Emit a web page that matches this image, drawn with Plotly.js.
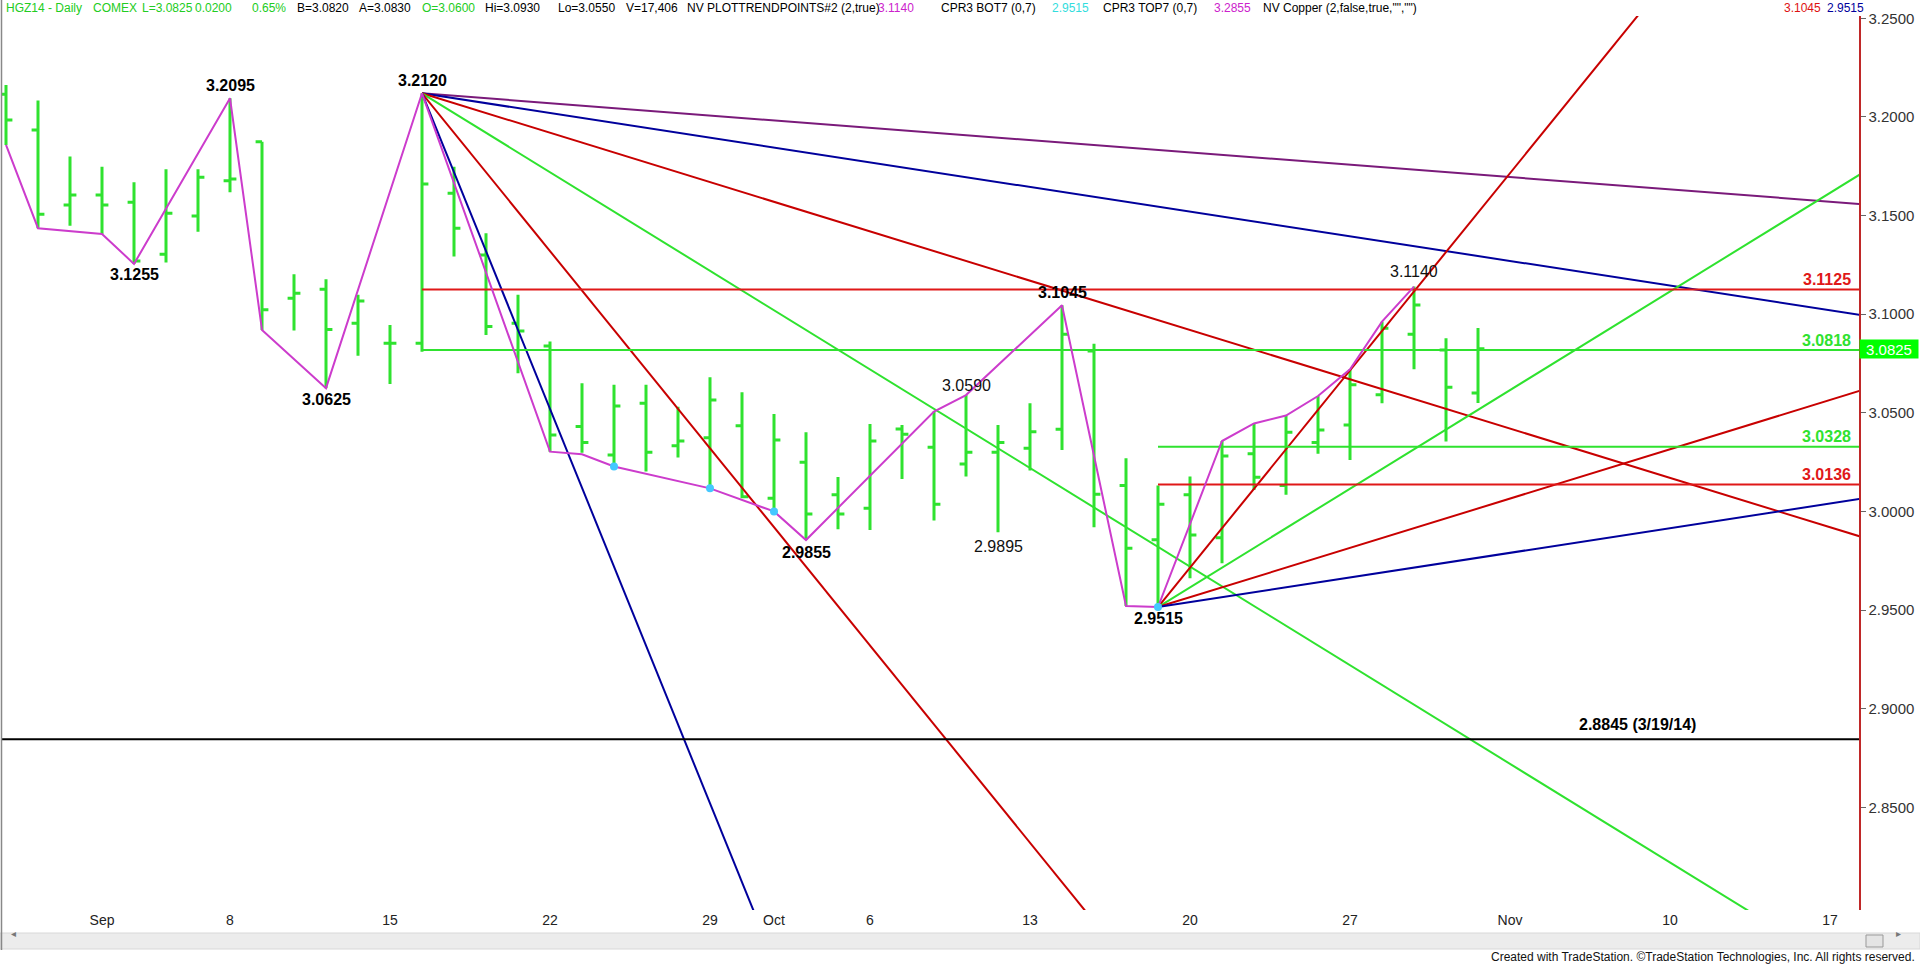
<!DOCTYPE html>
<html><head><meta charset="utf-8">
<script src="https://cdn.plot.ly/plotly-3.0.1.min.js"></script>
<style>html,body{margin:0;padding:0;background:#fff;}#chart{width:1920px;height:964px;}</style>
</head><body><div id="chart"></div>
<script>
// ---- DATA ----
const days = ['Aug 27','Aug 28','Aug 29','Sep 2','Sep 3','Sep 4','Sep 5','Sep 8','Sep 9','Sep 10','Sep 11','Sep 12',
  'Sep 15','Sep 16','Sep 17','Sep 18','Sep 19','Sep 22','Sep 23','Sep 24','Sep 25','Sep 26','Sep 29','Sep 30',
  'Oct 1','Oct 2','Oct 3','Oct 6','Oct 7','Oct 8','Oct 9','Oct 10','Oct 13','Oct 14','Oct 15','Oct 16','Oct 17',
  'Oct 20','Oct 21','Oct 22','Oct 23','Oct 24','Oct 27','Oct 28','Oct 29','Oct 30','Oct 31'];
const openP  = [3.2115,3.1934,3.1554,3.1605,3.1567,3.1304,3.1498,3.1677,3.1875,3.1081,3.1126,3.0954,3.0853,3.0853,3.1613,3.1300,3.0954,3.0839,3.0430,3.0286,3.0548,3.0333,3.0374,3.0435,3.0067,3.0249,3.0084,3.0016,3.0418,3.0325,3.0241,3.0300,3.0320,3.0416,3.0814,3.0131,2.9856,3.0084,2.9866,3.0292,3.0131,3.0350,3.0438,3.0591,3.0898,3.0818,3.0600];
const highP  = [3.2162,3.2083,3.1799,3.1748,3.1669,3.1735,3.1735,3.2095,3.1875,3.1203,3.1177,3.1098,3.0945,3.2120,3.1748,3.1410,3.1098,3.0861,3.0650,3.0642,3.0642,3.0531,3.0680,3.0604,3.0494,3.0401,3.0174,3.0443,3.0438,3.0506,3.0590,3.0438,3.0548,3.1045,3.0850,3.0270,3.0131,3.0177,3.0357,3.0446,3.0486,3.0585,3.0721,3.0962,3.1140,3.0878,3.0930];
const lowP   = [3.1858,3.1436,3.1449,3.1407,3.1255,3.1262,3.1418,3.1618,3.0920,3.0917,3.0625,3.0789,3.0646,3.0810,3.1292,3.0895,3.0700,3.0303,3.0298,3.0228,3.0202,3.0274,3.0117,3.0067,3.0000,2.9855,2.9910,2.9906,3.0165,2.9954,3.0177,2.9895,3.0207,3.0312,2.9920,2.9520,2.9515,2.9661,2.9737,3.0109,3.0084,3.0292,3.0261,3.0548,3.0721,3.0354,3.0550];
const closeP = [3.1985,3.1507,3.1605,3.1554,3.1270,3.1512,3.1694,3.1685,3.1022,3.1106,3.0923,3.1067,3.0853,3.1660,3.1436,3.0937,3.0915,3.0387,3.0350,3.0535,3.0300,3.0357,3.0565,3.0075,3.0362,2.9987,2.9987,3.0357,3.0391,3.0036,3.0300,3.0350,3.0404,3.0898,3.0087,2.9813,3.0036,2.9881,3.0281,3.0173,3.0401,3.0413,3.0642,3.0929,3.1047,3.0629,3.0825];

// x tick labels (bar index -> label)
const tickIdx  = [3,7,12,17,22,24,27,32,37,42,47,52,57];
const tickText = ['Sep','8','15','22','29','Oct','6','13','20','27','Nov','10','17'];
// y tick values
const yTicks = [2.85,2.90,2.95,3.00,3.05,3.10,3.15,3.20,3.25];

// swing (trend point) line
const swingIdx   = [0,1,3,4,7,8,10,13,17,18,19,22,24,25,29,30,33,35,36,38,39,40,41,42,43,44];
const swingPrice = [3.1858,3.1436,3.1407,3.1255,3.2095,3.0920,3.0625,3.2120,3.0303,3.0290,3.0228,3.0117,3.0000,2.9855,3.0506,3.0590,3.1045,2.9520,2.9515,3.0357,3.0446,3.0486,3.0585,3.0721,3.0962,3.1140];
const dotIdx   = [19,22,24,36];
const dotPrice = [3.0228,3.0117,3.0000,2.9515];

// swing labels
const lblIdx   = [4,7,10,13,25,30,31,33,36,44];
const lblPrice = [3.1255,3.2095,3.0625,3.2120,2.9855,3.0590,2.9895,3.1045,2.9515,3.1140];
const lblText  = ['3.1255','3.2095','3.0625','3.2120','2.9855','3.0590','2.9895','3.1045','2.9515','3.1140'];

// fan lines from the high pivot and from the low pivot (price at the right end, bar 58)
const highPivotIdx = 13, highPivotPrice = 3.2120;
const highFanEnd = [3.1558, 3.0995, 2.9870, 2.7620, 2.3120, 1.4120];
const lowPivotIdx = 36, lowPivotPrice = 2.9515;
const lowFanEnd = [3.3915, 3.1715, 3.0615, 3.0065];
const fanEndIdx = 58;

// horizontal levels
const levelPrice = [3.1125, 3.0818, 3.0328, 3.0136];
const levelStart = [13, 13, 36, 36];
const levelText  = ['3.1125','3.0818','3.0328','3.0136'];
const supportPrice = 2.8845;
const supportText = '2.8845 (3/19/14)';
const lastPrice = 3.0825;

// ---- STYLE ----
const GREEN = '#2fe22f', RED = '#e01818', DRED = '#c80000', NAVY = '#00009c', PURP = '#7a1a7a', MAG = '#cc3ccc', CYAN = '#45c8ff';
const FONT = "'Liberation Sans', Arial, sans-serif";
const highFanColor = [PURP, NAVY, DRED, GREEN, DRED, NAVY];
const lowFanColor  = [DRED, GREEN, DRED, NAVY];
const levelColor   = [RED, GREEN, GREEN, RED];
const lblBold  = [true,true,true,true,true,false,false,true,true,false];
const lblShift = [-11,13,-11,13,-12,10,-14,13,-11,15];

const W = 1920, H = 964, ML = 2, MR = 61, MT = 16, MB = 54;
const PW = W - ML - MR, PH = H - MT - MB;
const px2x = px => (px - ML) / PW;
const px2y = py => (H - MB - py) / PH;

const idx = days.map((d, i) => i);
const traces = [];

highFanEnd.forEach((e, k) => traces.push({type:'scatter', mode:'lines', x:[highPivotIdx, fanEndIdx], y:[highPivotPrice, e],
  line:{color:highFanColor[k], width:2}, hoverinfo:'skip'}));
lowFanEnd.forEach((e, k) => traces.push({type:'scatter', mode:'lines', x:[lowPivotIdx, fanEndIdx], y:[lowPivotPrice, e],
  line:{color:lowFanColor[k], width:2}, hoverinfo:'skip'}));
levelPrice.forEach((p, k) => traces.push({type:'scatter', mode:'lines', x:[levelStart[k], fanEndIdx], y:[p, p],
  line:{color:levelColor[k], width:2}, hoverinfo:'skip'}));
traces.push({type:'scatter', mode:'lines', x:[-1, fanEndIdx], y:[supportPrice, supportPrice], line:{color:'#000', width:2}, hoverinfo:'skip'});

traces.push({type:'ohlc', x:idx, open:openP, high:highP, low:lowP, close:closeP, tickwidth:0.2,
  increasing:{line:{color:GREEN, width:3}}, decreasing:{line:{color:GREEN, width:3}}, hoverinfo:'skip'});

traces.push({type:'scatter', mode:'lines', x:swingIdx, y:swingPrice, line:{color:MAG, width:2}, hoverinfo:'skip'});
traces.push({type:'scatter', mode:'markers', x:dotIdx, y:dotPrice, marker:{color:CYAN, size:8}, hoverinfo:'skip'});

const ann = [];
lblIdx.forEach((xi, k) => ann.push({xref:'x', yref:'y', x:xi, y:lblPrice[k], yshift:lblShift[k], showarrow:false,
  text: lblBold[k] ? '<b>' + lblText[k] + '</b>' : lblText[k], font:{family:FONT, size:16, color: lblBold[k] ? '#000' : '#111'}}));
levelPrice.forEach((p, k) => ann.push({xref:'x', yref:'y', x:56.9, y:p, yshift:10, showarrow:false,
  text:'<b>' + levelText[k] + '</b>', font:{family:FONT, size:16, color:levelColor[k]}}));
ann.push({xref:'x', yref:'y', x:50.97, y:supportPrice, yshift:15, showarrow:false, text:'<b>' + supportText + '</b>',
  font:{family:FONT, size:16, color:'#000'}});
ann.push({xref:'paper', yref:'y', x:1, y:lastPrice, xanchor:'left', xshift:0, showarrow:false, text:lastPrice.toFixed(4),
  bgcolor:'#00ff00', width:56, height:16, borderpad:1, font:{family:FONT, size:15, color:'#ffffff'}});

// header line
const header = [
  ['HGZ14 - Daily', 4, '#22cc22'], ['COMEX', 91, '#22cc22'], ['L=3.0825', 140, '#22cc22'], ['0.0200', 193, '#22cc22'], ['0.65%', 250, '#22cc22'],
  ['B=3.0820', 295, '#000'], ['A=3.0830', 357, '#000'], ['O=3.0600', 420, '#22cc22'], ['Hi=3.0930', 483, '#000'],
  ['Lo=3.0550', 556, '#000'], ['V=17,406', 624, '#000'], ['NV', 685, '#000'], ['PLOTTRENDPOINTS#2 (2,true)', 705, '#000'],
  ['3.1140', 876, '#cc22cc'], ['CPR3 BOT7 (0,7)', 939, '#000'], ['2.9515', 1050, '#33dddd'], ['CPR3 TOP7 (0,7)', 1101, '#000'],
  ['3.2855', 1212, '#cc22cc'], ['NV Copper (2,false,true,"","")', 1261, '#000'], ['3.1045', 1782, '#dd1111'], ['2.9515', 1825, '#00009c']];
header.forEach(h => ann.push({xref:'paper', yref:'paper', x:px2x(h[1]), y:px2y(8), xanchor:'left', yanchor:'middle', showarrow:false,
  text:h[0], font:{family:FONT, size:12, color:h[2]}}));
ann.push({xref:'paper', yref:'paper', x:px2x(1917), y:px2y(957), xanchor:'right', yanchor:'middle', showarrow:false,
  text:'Created with TradeStation. ©TradeStation Technologies, Inc. All rights reserved.', font:{family:FONT, size:12, color:'#111'}});
ann.push({xref:'paper', yref:'paper', x:px2x(9), y:px2y(941), showarrow:false, text:'◂', font:{family:FONT, size:10, color:'#777'}});
ann.push({xref:'paper', yref:'paper', x:px2x(1903), y:px2y(941), showarrow:false, text:'▸', font:{family:FONT, size:10, color:'#777'}});

const shapes = [
  {type:'rect', xref:'paper', yref:'paper', x0:px2x(0), x1:px2x(1920), y0:px2y(933), y1:px2y(949), fillcolor:'#ececec', line:{color:'#d8d8d8', width:1}, layer:'below'},
  {type:'rect', xref:'paper', yref:'paper', x0:px2x(1866), x1:px2x(1883), y0:px2y(935), y1:px2y(947), fillcolor:'#e4e4e4', line:{color:'#999', width:1}},
  {type:'line', xref:'paper', yref:'paper', x0:px2x(1.5), x1:px2x(1.5), y0:px2y(0), y1:px2y(950), line:{color:'#888', width:1.5}}
];

const layout = {
  width:W, height:H, margin:{l:ML, r:MR, t:MT, b:MB}, paper_bgcolor:'#fff', plot_bgcolor:'#fff', showlegend:false,
  xaxis:{range:[-0.125, 57.906], tickmode:'array', tickvals:tickIdx, ticktext:tickText, showgrid:false, zeroline:false,
    showline:false, ticks:'', tickfont:{family:FONT, size:14, color:'#222'}, rangeslider:{visible:false}, fixedrange:true},
  yaxis:{range:[2.7979, 3.2512], side:'right', showgrid:false, zeroline:false, showline:true, linecolor:'#c02828', linewidth:1.5,
    ticks:'outside', ticklen:5, tickcolor:'#666', tickmode:'array', tickvals:yTicks, ticktext:yTicks.map(v => v.toFixed(4)),
    tickfont:{family:FONT, size:15, color:'#333'}, fixedrange:true},
  annotations:ann, shapes:shapes
};
Plotly.newPlot('chart', traces, layout, {displayModeBar:false, staticPlot:true});
</script></body></html>
